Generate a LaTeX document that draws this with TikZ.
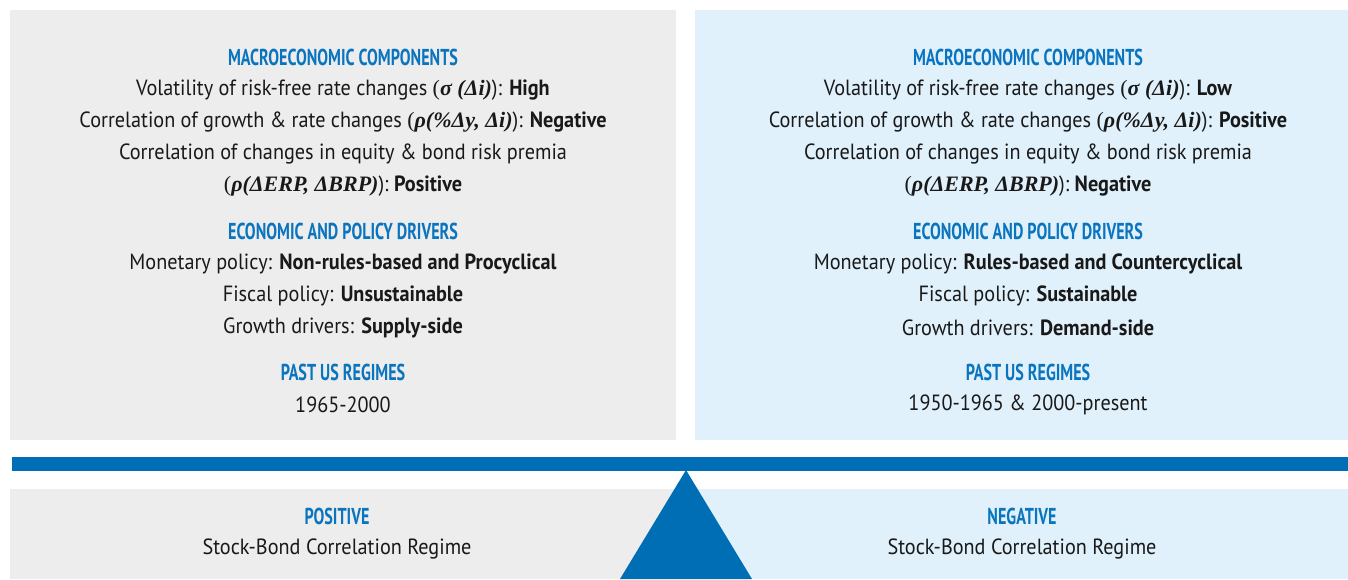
\documentclass[tikz,border=0pt]{standalone}
\usepackage{fontspec}
\setmainfont{PT Sans}[FakeStretch=0.92]
\newfontfamily\headfont{PT Sans}[FakeStretch=0.7]
\newfontfamily\serfont{Liberation Serif}
\usetikzlibrary{positioning}
\definecolor{boxgray}{HTML}{EDEDED}
\definecolor{boxblue}{HTML}{E0F1FB}
\definecolor{barblue}{HTML}{006EB4}
\definecolor{headblue}{HTML}{0A74BE}
\newcommand{\mth}[1]{{\serfont(\textbf{\textit{#1}}})}

\begin{document}
\begin{tikzpicture}[x=1pt,y=-1pt]
\tikzstyle{head}=[text=headblue,font=\headfont\bfseries\fontsize{23}{23}\selectfont,inner sep=0pt]
\tikzstyle{line}=[text=black!90,font=\fontsize{22}{22}\selectfont,inner sep=0pt]
\useasboundingbox (0,0) rectangle (1348,579);
% panels
\fill[boxgray] (10,10) rectangle (676,440);
\fill[boxblue] (695,10) rectangle (1348,440);
\fill[boxgray] (10,489) rectangle (686,579);
\fill[boxblue] (686,489) rectangle (1348,579);
% seesaw
\fill[barblue] (12,457) rectangle (1348,471);
\coordinate (apex) at (686,470);
\coordinate (baseL) at (620,579);
\coordinate (baseR) at (752,579);
\fill[barblue] (apex) -- (baseR) -- (baseL) -- cycle;
% left panel
\node[head] (macroL) at (343,57) {MACROECONOMIC COMPONENTS};
\node[line] (volL) at (343,90) {Volatility of risk-free rate changes \mth{σ (Δi)}: \textbf{High}};
\node[line] (corL) at (343,122) {Correlation of growth \& rate changes \mth{ρ(\%Δy, Δi)}: \textbf{Negative}};
\node[line] (premL) at (343,154) {Correlation of changes in equity \& bond risk premia};
\node[line] (erpL) at (343,186) {\mth{ρ(ΔERP, ΔBRP)}: \textbf{Positive}};
\node[head] (drivL) at (343,231) {ECONOMIC AND POLICY DRIVERS};
\node[line] (monL) at (343,264) {Monetary policy: \textbf{Non-rules-based and Procyclical}};
\node[line] (fisL) at (343,296) {Fiscal policy: \textbf{Unsustainable}};
\node[line] (groL) at (343,328) {Growth drivers: \textbf{Supply-side}};
\node[head] (pastL) at (343,372) {PAST US REGIMES};
\node[line] (yrsL) at (343,405) {1965-2000};
% right panel
\node[head] (macroR) at (1028,57) {MACROECONOMIC COMPONENTS};
\node[line] (volR) at (1028,90) {Volatility of risk-free rate changes \mth{σ (Δi)}: \textbf{Low}};
\node[line] (corR) at (1028,122) {Correlation of growth \& rate changes \mth{ρ(\%Δy, Δi)}: \textbf{Positive}};
\node[line] (premR) at (1028,154) {Correlation of changes in equity \& bond risk premia};
\node[line] (erpR) at (1028,186) {\mth{ρ(ΔERP, ΔBRP)}: \textbf{Negative}};
\node[head] (drivR) at (1028,231) {ECONOMIC AND POLICY DRIVERS};
\node[line] (monR) at (1028,264) {Monetary policy: \textbf{Rules-based and Countercyclical}};
\node[line] (fisR) at (1028,296) {Fiscal policy: \textbf{Sustainable}};
\node[line] (groR) at (1028,328) {Growth drivers: \textbf{Demand-side}};
\node[head] (pastR) at (1028,372) {PAST US REGIMES};
\node[line] (yrsR) at (1028,405) {1950-1965 \& 2000-present};
% bottom labels
\node[head] (pos) at (337,516) {POSITIVE};
\node[line] (regL) at (337,549) {Stock-Bond Correlation Regime};
\node[head] (neg) at (1022,516) {NEGATIVE};
\node[line] (regR) at (1022,549) {Stock-Bond Correlation Regime};
\end{tikzpicture}
\end{document}
